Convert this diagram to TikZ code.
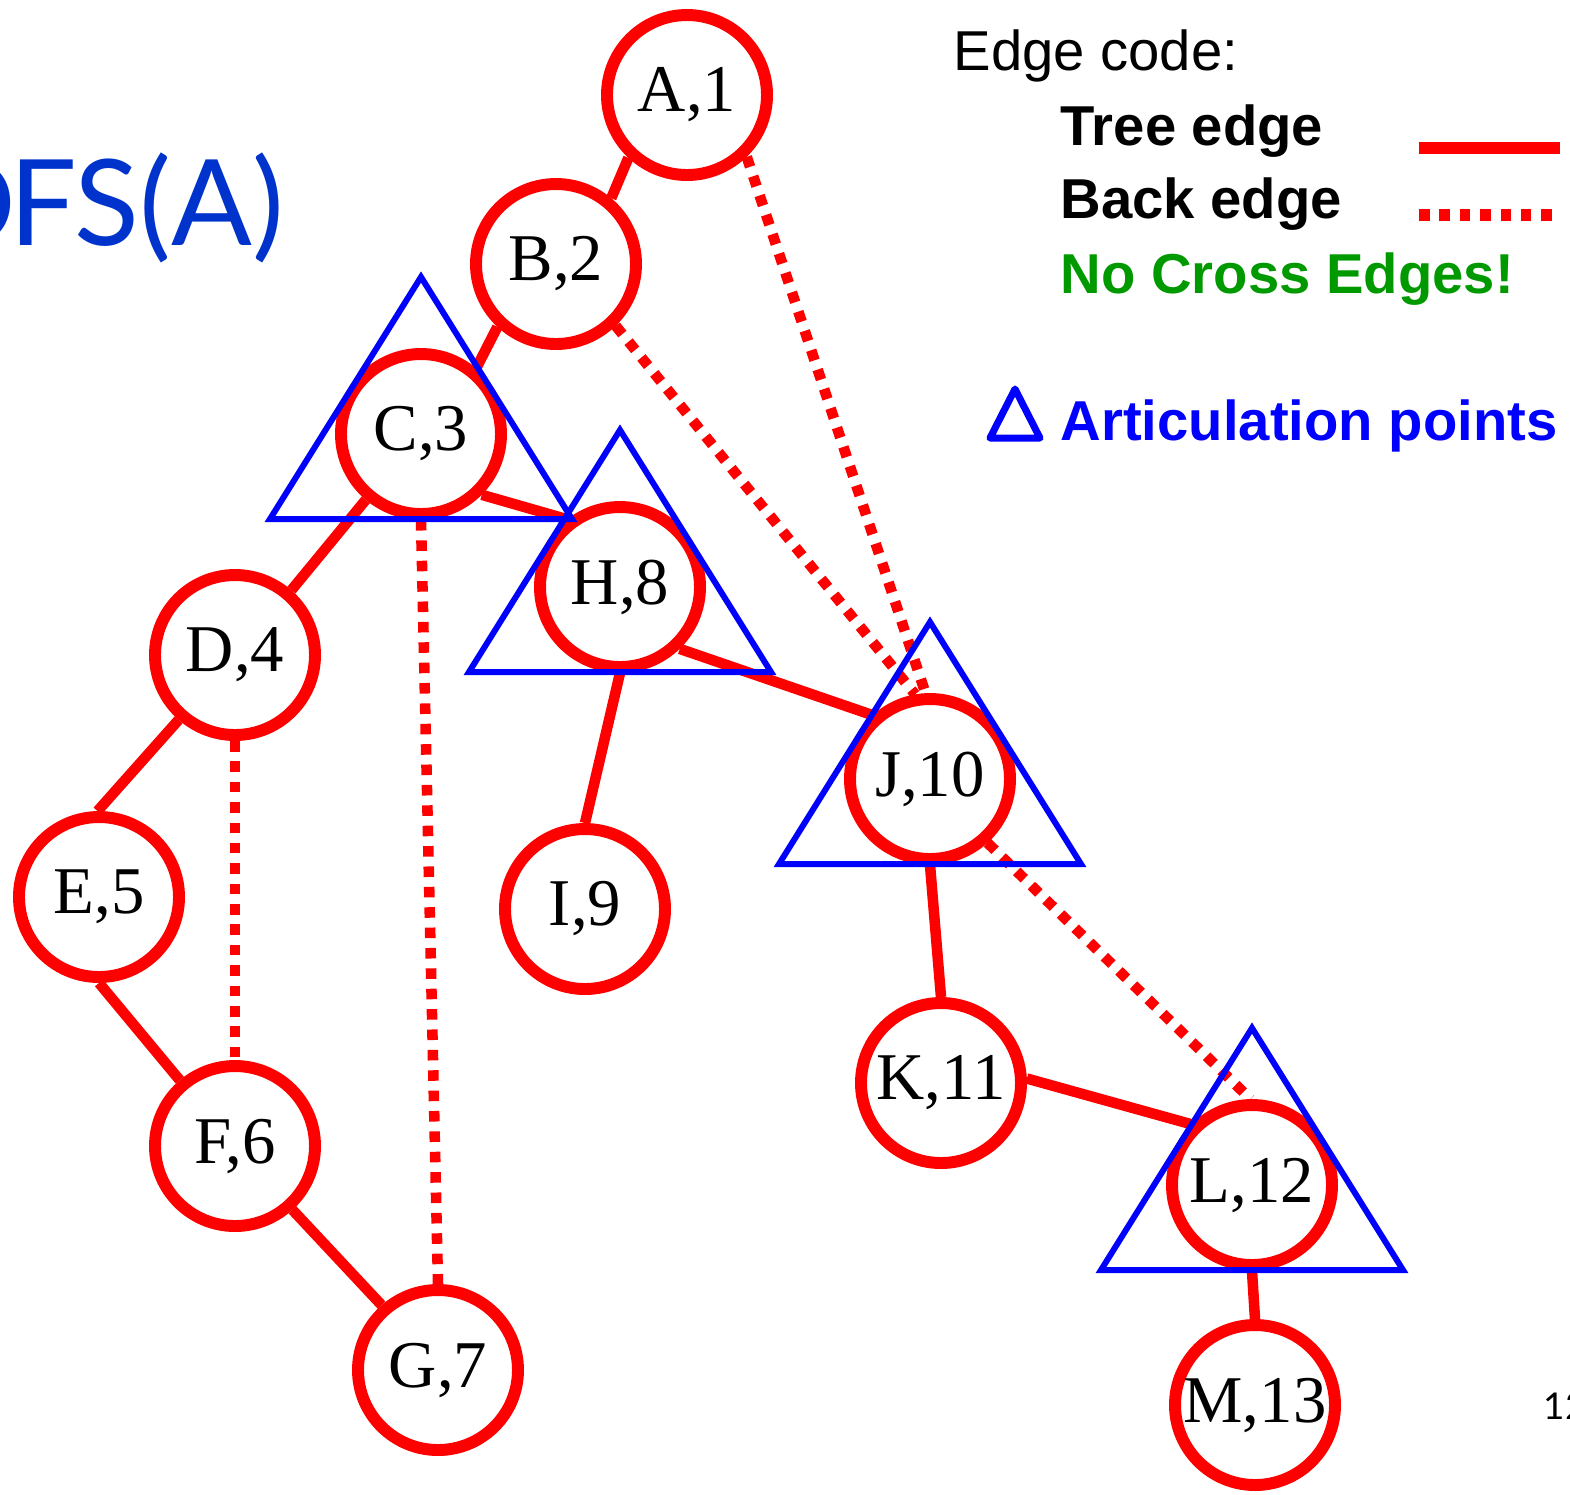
\documentclass[tikz,border=0pt]{standalone}
\usepackage{fontspec}
\setmainfont{Liberation Serif}
\newfontfamily\legendfont{Liberation Sans}
\newfontfamily\titlefont{Lato}
\usepackage{xcolor}
\usetikzlibrary{calc}

\definecolor{titleblue}{RGB}{0,51,204}
\definecolor{nocross}{RGB}{0,153,0}

\begin{document}
\begin{tikzpicture}[
  vtx/.style={circle, draw=red, fill=white, line width=3.4pt, minimum size=1.6cm,
              inner sep=0pt, font=\fontsize{19}{21}\selectfont},
  treeedge/.style={draw=red, line width=3pt},
  backedge/.style={draw=red, line width=3pt, dash pattern=on 3pt off 2.8pt},
  artic/.style={draw=blue, line width=1.7pt},
  legtext/.style={font=\legendfont\fontsize{16}{19}\selectfont, anchor=base west, inner sep=0pt},
  legbold/.style={font=\legendfont\bfseries\fontsize{16}{19}\selectfont, anchor=base west, inner sep=0pt}
]
  \useasboundingbox (0,0) rectangle (15.70,-14.94);

  % --- Title and page number (both cut by the page edge) ---
  \node[font=\titlefont\fontsize{34}{40}\selectfont, text=titleblue, anchor=base east,
        inner sep=0pt] (title) at (2.85,-2.45) {D\kern-2pt FS(A)};
  \node[font=\titlefont\fontsize{10.5}{12}\selectfont, anchor=base west, inner sep=0pt]
       (pagenum) at (15.43,-14.19) {12};

  % --- Vertices (DFS name, discovery number) ---
  \node[vtx] (A) at (6.87,-0.95)  {A,1};
  \node[vtx] (B) at (5.56,-2.64)  {B,2};
  \node[vtx] (C) at (4.21,-4.34)  {C,3};
  \node[vtx] (D) at (2.35,-6.55)  {D,4};
  \node[vtx] (E) at (0.99,-8.97)  {E,5};
  \node[vtx] (F) at (2.35,-11.46) {F,6};
  \node[vtx] (G) at (4.38,-13.70) {G,7};
  \node[vtx] (H) at (6.20,-5.87)  {H,8};
  \node[vtx] (I) at (5.85,-9.09)  {I,9};
  \node[vtx] (J) at (9.30,-7.79)  {J,10};
  \node[vtx] (K) at (9.41,-10.83) {K,11};
  \node[vtx] (L) at (12.52,-11.85) {L,12};
  \node[vtx] (M) at (12.55,-14.05) {M,13};

  % --- Tree edges ---
  \draw[treeedge] (A.227) -- (B.50);
  \draw[treeedge] (B.227) -- (C.50);
  \draw[treeedge] (C.230) -- (D.49);
  \draw[treeedge] (C.-45) -- (H.128);
  \draw[treeedge] (D.229) -- (E.91);
  \draw[treeedge] (E.270) -- (F.130);
  \draw[treeedge] (F.-48) -- (G.131);
  \draw[treeedge] (H.-90) -- (I.90);
  \draw[treeedge] (H.-46) -- (J.132);
  \draw[treeedge] (J.-90) -- (K.90);
  \draw[treeedge] (K.3) -- (L.135);
  \draw[treeedge] (L.-90) -- (M.90);

  % --- Back edges ---
  \draw[backedge] (A.-46) -- (J.93);
  \draw[backedge] (B.-46) -- (J.100);
  \draw[backedge] (C.-90) -- (G.90);
  \draw[backedge] (D.-90) -- (F.90);
  \draw[backedge] (J.-48) -- (L.91);

  % --- Articulation points ---
  \foreach \v in {C,H,J,L}{
    \draw[artic] ([yshift=1.57cm]\v.center) -- ([xshift=-1.51cm,yshift=-0.85cm]\v.center)
      -- ([xshift=1.51cm,yshift=-0.85cm]\v.center) -- cycle;
  }

  % --- Legend ---
  \node[legtext] (code) at (9.53,-0.70) {Edge code:};
  \node[legbold] (tree) at (10.60,-1.45) {Tree edge};
  \node[legbold] (back) at (10.60,-2.18) {Back edge};
  \node[legbold, text=nocross] (nocross) at (10.60,-2.93) {No Cross Edges!};
  \node[legbold, text=blue] (points) at (10.60,-4.40) {Articulation points};
  \coordinate (treeL) at (14.19,-1.48);
  \coordinate (treeR) at (15.60,-1.48);
  \coordinate (backL) at (14.19,-2.15);
  \coordinate (backR) at (15.60,-2.15);
  \draw[treeedge, line width=3.4pt] (treeL) -- (treeR);
  \draw[backedge, line width=3.4pt] (backL) -- (backR);
  \draw[artic, line width=2pt, line join=round] (10.15,-3.89) -- (9.90,-4.38)
    -- (10.40,-4.38) -- cycle;
\end{tikzpicture}
\end{document}
